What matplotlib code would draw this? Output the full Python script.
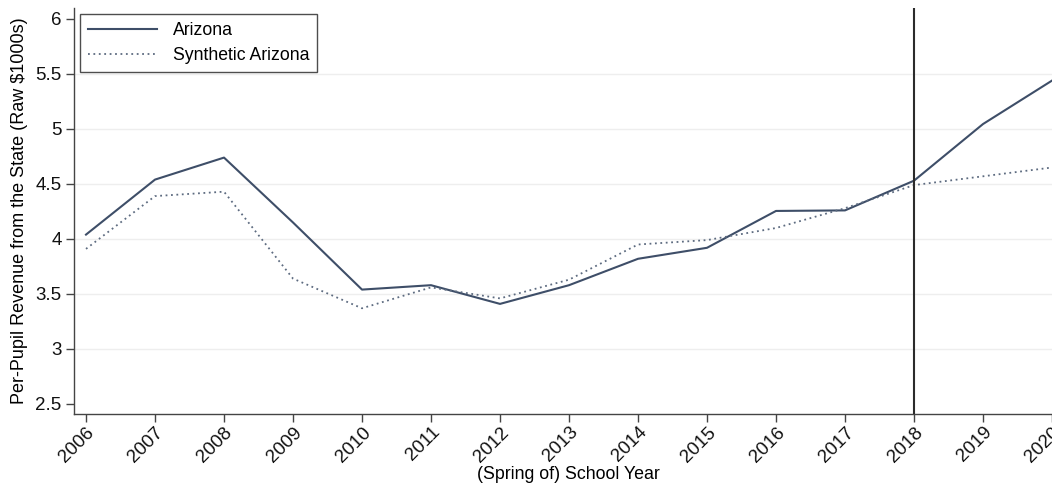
import matplotlib
matplotlib.use("Agg")
import matplotlib.pyplot as plt

plt.rcParams['font.family'] = ['Liberation Sans', 'DejaVu Sans']

years = [2006, 2007, 2008, 2009, 2010, 2011, 2012, 2013, 2014, 2015,
         2016, 2017, 2018, 2019, 2020]
arizona = [4.04, 4.54, 4.74, 4.15, 3.54, 3.58, 3.41, 3.58, 3.82, 3.92,
           4.255, 4.26, 4.53, 5.045, 5.44]
synthetic = [3.91, 4.39, 4.43, 3.64, 3.37, 3.56, 3.46, 3.63, 3.95, 3.99,
             4.10, 4.28, 4.49, 4.57, 4.65]
yticks = [2.5, 3, 3.5, 4, 4.5, 5, 5.5, 6]
ytick_labels = ['2.5', '3', '3.5', '4', '4.5', '5', '5.5', '6']
treatment_year = 2018

W, H = 1052, 487
fig = plt.figure(figsize=(W / 100, H / 100), dpi=100)
ax = fig.add_axes([74 / W, 1 - 414 / H, (1052 - 74) / W, (414 - 8) / H])

# light horizontal rules at the interior y ticks only
for level in yticks[1:-1]:
    ax.axhline(level, color='#eeeeee', lw=1.0, zorder=0)

line_color = '#3e4e68'
ax.plot(years, arizona, color=line_color, lw=1.5, label='Arizona', zorder=3)
ax.plot(years, synthetic, color='#5d6b80', lw=1.3, ls=(0, (1, 2)),
        label='Synthetic Arizona', zorder=3)
ax.axvline(treatment_year, color='#2b2b2b', lw=1.5, zorder=4)

ax.set_xlim(2005.826, 2020.0)
ax.set_ylim(2.409, 6.1)
ax.set_xticks(years)
ax.set_xticklabels([str(y) for y in years], rotation=45, ha='right',
                   rotation_mode='anchor', fontsize=13.5)
ax.set_yticks(yticks)
ax.set_yticklabels(ytick_labels, fontsize=13.5)

for side in ('top', 'right'):
    ax.spines[side].set_visible(False)
for side in ('left', 'bottom'):
    ax.spines[side].set_color('#444444')
    ax.spines[side].set_linewidth(1.0)
ax.tick_params(axis='both', direction='out', length=6, width=1.0,
               color='#444444', labelcolor='#111111')
ax.tick_params(axis='x', pad=1)
ax.tick_params(axis='y', pad=3)

ax.set_xlabel('(Spring of) School Year', fontsize=12.8)
ax.xaxis.set_label_coords((568 - 74) / 978, -0.128)
ax.set_ylabel('Per-Pupil Revenue from the State (Raw $1000s)', fontsize=13,
              labelpad=5)

leg = ax.legend(loc='upper left', bbox_to_anchor=(80 / W, 1 - 14 / H),
                bbox_transform=fig.transFigure, fontsize=12.7, frameon=True,
                fancybox=False, edgecolor='#222222', handlelength=3.9,
                handletextpad=0.9, borderpad=0.45, labelspacing=0.45,
                borderaxespad=0)
leg.get_frame().set_linewidth(1.0)

fig.savefig('out.png', dpi=100)
